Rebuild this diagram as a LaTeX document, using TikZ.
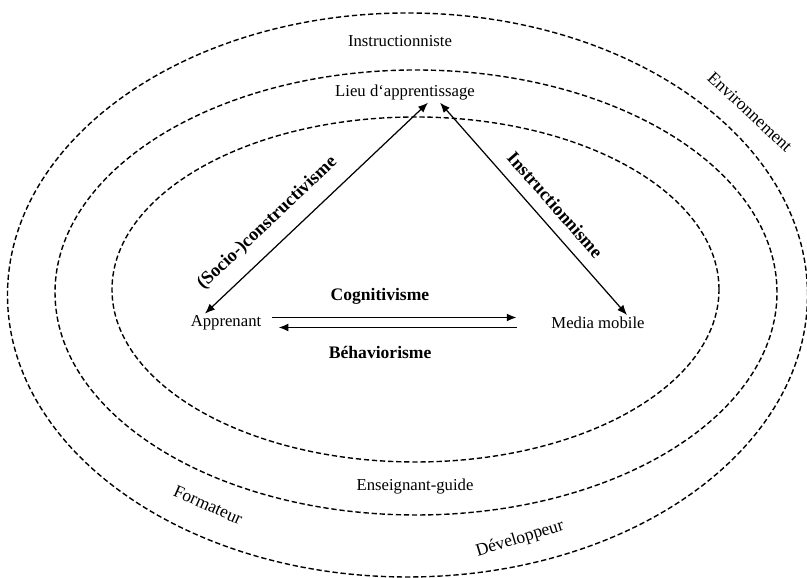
\documentclass[tikz,border=0pt]{standalone}
\usepackage{fontspec}
\setmainfont{Liberation Serif}
\usetikzlibrary{arrows.meta}
\begin{document}
\begin{tikzpicture}[>={Latex[length=2mm, width=1.6mm]}, every node/.style={align=center, inner sep=1pt, font=\fontsize{9.5}{11}\selectfont},
  ring/.style={dash pattern=on 3pt off 1.6pt, line width=0.8pt},
  tilted/.style={font=\fontsize{10}{12}\selectfont},
  theory/.style={font=\fontsize{10}{12}\selectfont\bfseries},
  slanted/.style={font=\fontsize{10.5}{12}\selectfont\bfseries}]
\useasboundingbox (0,0) rectangle (16.14,11.56);

% three dashed rings
\draw[ring] (8.15,5.66) ellipse [x radius=8.0, y radius=5.64];
\draw[ring] (8.32,5.71) ellipse [x radius=7.22, y radius=4.45];
\draw[ring] (8.31,5.77) ellipse [x radius=6.07, y radius=3.45];

\node (instr) at (8.0,10.74) {Instructionniste};
\node (lieu) at (8.1,9.7) {Lieu d‘apprentissage};
\node (appr) at (4.52,5.1) {Apprenant};
\node (media) at (11.96,5.1) {Media mobile};
\node (guide) at (8.3,1.82) {Enseignant-guide};
\node (form) [tilted, rotate=-24] at (4.16,1.46) {Formateur};
\node (dev) [tilted, rotate=17] at (10.4,0.78) {Développeur};
\node (env) [tilted, rotate=-43] at (15.0,9.32) {Environnement};

\draw[<->, line width=0.7pt] ([xshift=-0.42cm]appr.north) -- ([xshift=0.46cm]lieu.south)
  node (socio) [slanted, sloped, pos=0.35, above=0.24cm] {(Socio-)constructivisme};
\draw[<->, line width=0.7pt] ([xshift=0.7cm]lieu.south) -- ([xshift=0.58cm]media.north)
  node (instrm) [slanted, sloped, pos=0.54, above=0.2cm] {Instructionnisme};
\draw[->, line width=1.1pt] ([shift={(0.18,0.11)}]appr.east) -- ([shift={(-0.65,0.11)}]media.west)
  node (cogn) [theory, pos=0.44, above=0.2cm] {Cognitivisme};
\draw[->, line width=1.1pt] ([shift={(-0.65,-0.09)}]media.west) -- ([shift={(0.3,-0.09)}]appr.east)
  node (behav) [theory, pos=0.573, below=0.32cm] {Béhaviorisme};
\end{tikzpicture}
\end{document}
